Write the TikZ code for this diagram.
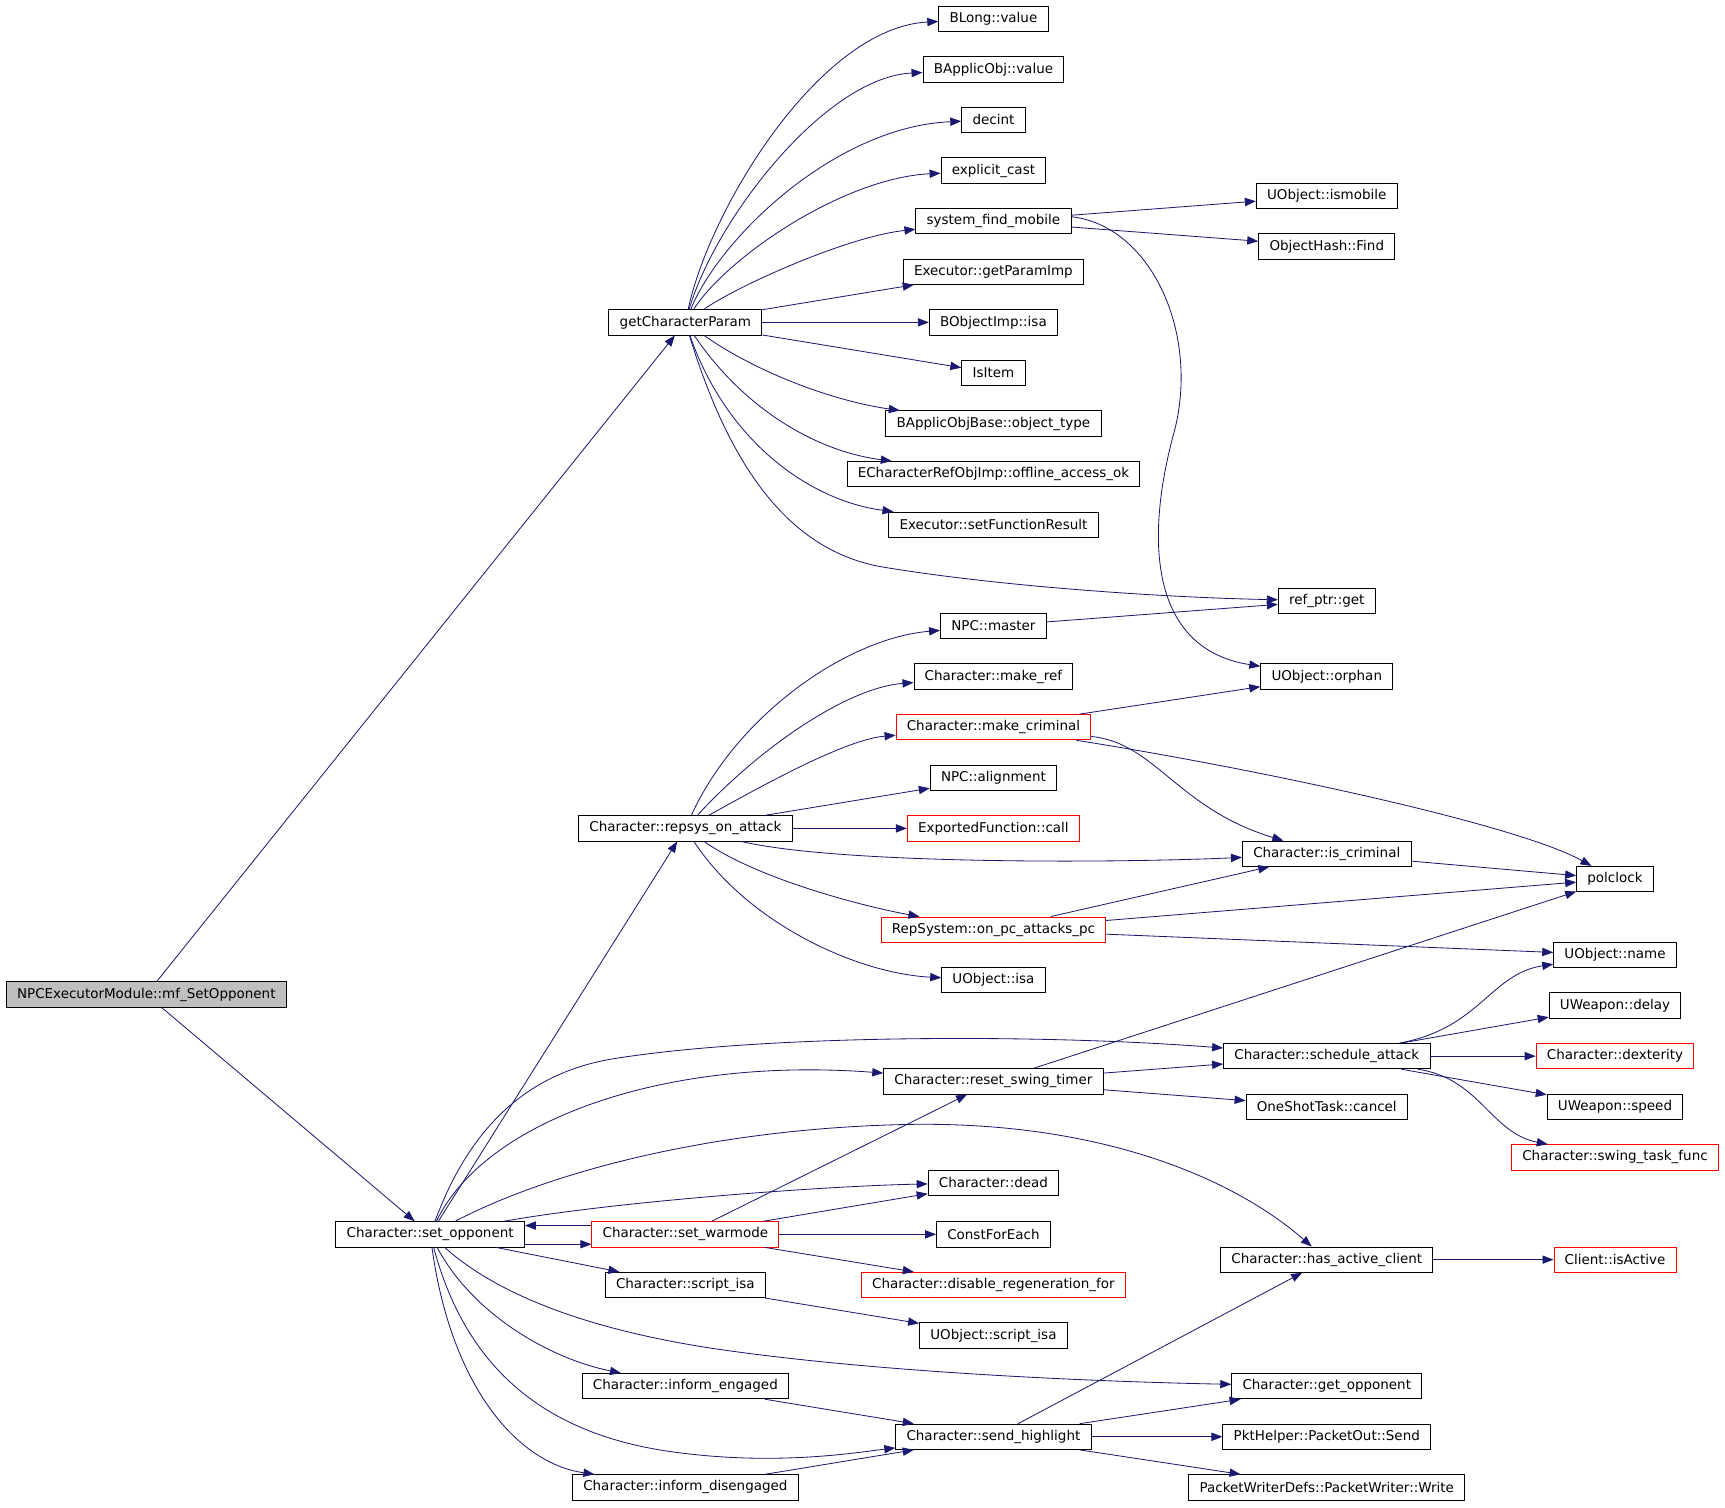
\documentclass[tikz,border=0pt]{standalone}
\usepackage{fontspec}
\setmainfont{DejaVu Sans}
\usepackage{xcolor}
\usepackage{tikz}
\usetikzlibrary{arrows.meta}
\definecolor{edgeblue}{HTML}{191970}
\definecolor{rootgray}{HTML}{BFBFBF}
\pgfkeys{tikz/fnbox/.style={draw=black,fill=white,line width=0.8pt,minimum height=23pt,inner xsep=9.8pt,inner ysep=0pt,font=\fontsize{12.25}{14}\selectfont}}
\pgfkeys{tikz/fnred/.style={fnbox,draw=red}}
\pgfkeys{tikz/fnroot/.style={fnbox,fill=rootgray}}
\pgfkeys{tikz/callarrow/.style={draw=edgeblue,line width=0.75pt,-{Triangle[length=10pt,width=7.5pt]}}}

\begin{document}
\begin{tikzpicture}[x=1pt,y=-1pt]
  \useasboundingbox (0,0) rectangle (1568,1370);

  % callers
  \node[fnroot] (mfset) at (133,904) {NPCExecutorModule::mf\_SetOpponent};
  \node[fnbox] (getparam) at (623,293) {getCharacterParam};
  \node[fnbox] (setopp) at (391,1122) {Character::set\_opponent};
  \node[fnbox] (repsys) at (623,753) {Character::repsys\_on\_attack};
  \node[fnred] (setwar) at (623,1122) {Character::set\_warmode};
  \node[fnbox] (scriptisa) at (623,1168) {Character::script\_isa};
  \node[fnbox] (infeng) at (623,1260) {Character::inform\_engaged};
  \node[fnbox] (infdis) at (623,1352) {Character::inform\_disengaged};

  % middle column
  \node[fnbox] (blong) at (903,17) {BLong::value};
  \node[fnbox] (bapplicval) at (903,63) {BApplicObj::value};
  \node[fnbox] (decint) at (903,109) {decint};
  \node[fnbox] (explcast) at (903,155) {explicit\_cast};
  \node[fnbox] (sysfind) at (903,201) {system\_find\_mobile};
  \node[fnbox] (getparamimp) at (903,247) {Executor::getParamImp};
  \node[fnbox] (bobjisa) at (903,293) {BObjectImp::isa};
  \node[fnbox] (isitem) at (903,339) {IsItem};
  \node[fnbox] (objtype) at (903,385) {BApplicObjBase::object\_type};
  \node[fnbox] (offlineok) at (903,431) {ECharacterRefObjImp::offline\_access\_ok};
  \node[fnbox] (setfuncres) at (903,477) {Executor::setFunctionResult};
  \node[fnbox] (npcmaster) at (903,569) {NPC::master};
  \node[fnbox] (makeref) at (903,615) {Character::make\_ref};
  \node[fnred] (makecrim) at (903,661) {Character::make\_criminal};
  \node[fnbox] (npcalign) at (903,707) {NPC::alignment};
  \node[fnred] (expcall) at (903,753) {ExportedFunction::call};
  \node[fnred] (onpcattacks) at (903,845) {RepSystem::on\_pc\_attacks\_pc};
  \node[fnbox] (uobjisa) at (903,891) {UObject::isa};
  \node[fnbox] (resetswing) at (903,983) {Character::reset\_swing\_timer};
  \node[fnbox] (dead) at (903,1075) {Character::dead};
  \node[fnbox] (constfe) at (903,1122) {ConstForEach};
  \node[fnred] (disregen) at (903,1168) {Character::disable\_regeneration\_for};
  \node[fnbox] (uscriptisa) at (903,1214) {UObject::script\_isa};
  \node[fnbox] (sendhl) at (903,1306) {Character::send\_highlight};

  % right columns
  \node[fnbox] (ismobile) at (1206,178) {UObject::ismobile};
  \node[fnbox] (hashfind) at (1206,224) {ObjectHash::Find};
  \node[fnbox] (refget) at (1206,546) {ref\_ptr::get};
  \node[fnbox] (orphan) at (1206,615) {UObject::orphan};
  \node[fnbox] (iscrim) at (1206,776) {Character::is\_criminal};
  \node[fnbox] (schedatt) at (1206,960) {Character::schedule\_attack};
  \node[fnbox] (oscancel) at (1206,1006) {OneShotTask::cancel};
  \node[fnbox] (hasclient) at (1206,1145) {Character::has\_active\_client};
  \node[fnbox] (getopp) at (1206,1260) {Character::get\_opponent};
  \node[fnbox] (pktsend) at (1206,1306) {PktHelper::PacketOut::Send};
  \node[fnbox] (pktwrite) at (1206,1352) {PacketWriterDefs::PacketWriter::Write};
  \node[fnbox] (polclock) at (1468,799) {polclock};
  \node[fnbox] (uobjname) at (1468,868) {UObject::name};
  \node[fnbox] (wdelay) at (1468,914) {UWeapon::delay};
  \node[fnred] (dexterity) at (1468,960) {Character::dexterity};
  \node[fnbox] (wspeed) at (1468,1006) {UWeapon::speed};
  \node[fnred] (swingtask) at (1468,1052) {Character::swing\_task\_func};
  \node[fnred] (isactive) at (1468,1145) {Client::isActive};

  % mf_SetOpponent
  \draw[callarrow] (mfset) -- (getparam);
  \draw[callarrow] (mfset) -- (setopp);

  % getCharacterParam
  \draw[callarrow] (getparam) .. controls (645,190) and (745,25) .. (blong);
  \draw[callarrow] (getparam) .. controls (650,200) and (750,70) .. (bapplicval);
  \draw[callarrow] (getparam) .. controls (655,215) and (760,115) .. (decint);
  \draw[callarrow] (getparam) .. controls (660,235) and (765,162) .. (explcast);
  \draw[callarrow] (getparam) .. controls (670,260) and (770,215) .. (sysfind);
  \draw[callarrow] (getparam) -- (getparamimp);
  \draw[callarrow] (getparam) -- (bobjisa);
  \draw[callarrow] (getparam) -- (isitem);
  \draw[callarrow] (getparam) .. controls (690,340) and (760,365) .. (objtype);
  \draw[callarrow] (getparam) .. controls (675,370) and (740,410) .. (offlineok);
  \draw[callarrow] (getparam) .. controls (660,400) and (735,455) .. (setfuncres);
  \draw[callarrow] (getparam) .. controls (665,430) and (720,500) .. (800,515)
    .. controls (900,532) and (1050,543) .. (refget);

  % system_find_mobile
  \draw[callarrow] (sysfind) -- (ismobile);
  \draw[callarrow] (sysfind) -- (hashfind);
  \draw[callarrow] ([yshift=4pt]sysfind.east) .. controls (1045,205) and (1090,300) .. (1068,390)
    .. controls (1040,490) and (1045,590) .. (orphan);
  \draw[callarrow] (npcmaster) -- (refget);

  % repsys_on_attack
  \draw[callarrow] (repsys) .. controls (670,650) and (770,580) .. (npcmaster);
  \draw[callarrow] (repsys) .. controls (690,680) and (770,625) .. (makeref);
  \draw[callarrow] (repsys) .. controls (700,710) and (770,672) .. (makecrim);
  \draw[callarrow] (repsys) -- (npcalign);
  \draw[callarrow] (repsys) -- (expcall);
  \draw[callarrow] (repsys) .. controls (760,785) and (1000,785) .. (iscrim);
  \draw[callarrow] (repsys) .. controls (690,800) and (790,825) .. (onpcattacks);
  \draw[callarrow] (repsys) .. controls (680,840) and (780,885) .. (uobjisa);

  % make_criminal, is_criminal, on_pc_attacks_pc
  \draw[callarrow] (makecrim) -- (orphan);
  \draw[callarrow] (makecrim) .. controls (1050,675) and (1070,735) .. (iscrim);
  \draw[callarrow] (makecrim) .. controls (1150,700) and (1380,750) .. (polclock);
  \draw[callarrow] (iscrim) -- (polclock);
  \draw[callarrow] (onpcattacks) -- (iscrim);
  \draw[callarrow] (onpcattacks) -- (polclock);
  \draw[callarrow] (onpcattacks) -- (uobjname);

  % reset_swing_timer, schedule_attack
  \draw[callarrow] (resetswing) -- (polclock);
  \draw[callarrow] (resetswing) -- (schedatt);
  \draw[callarrow] (resetswing) -- (oscancel);
  \draw[callarrow] (schedatt) .. controls (1345,935) and (1355,885) .. (uobjname);
  \draw[callarrow] (schedatt) -- (wdelay);
  \draw[callarrow] (schedatt) -- (dexterity);
  \draw[callarrow] (schedatt) -- (wspeed);
  \draw[callarrow] (schedatt) .. controls (1345,980) and (1355,1030) .. (swingtask);

  % set_opponent
  \draw[callarrow] (setopp) -- (repsys);
  \draw[callarrow] (setopp) .. controls (425,1030) and (475,975) .. (560,962)
    .. controls (700,940) and (950,940) .. (schedatt);
  \draw[callarrow] (setopp) .. controls (440,1020) and (600,960) .. (resetswing);
  \draw[callarrow] (setopp) .. controls (500,1065) and (650,1025) .. (830,1022)
    .. controls (1000,1020) and (1120,1070) .. (hasclient);
  \draw[callarrow] (setopp) .. controls (560,1092) and (750,1078) .. (dead);
  \draw[callarrow] ([yshift=-9pt]setopp.east) -- ([yshift=-9pt]setwar.west);
  \draw[callarrow] ([yshift=8pt]setwar.west) -- ([yshift=8pt]setopp.east);
  \draw[callarrow] (setopp) -- (scriptisa);
  \draw[callarrow] (setopp) .. controls (450,1175) and (530,1208) .. (650,1226)
    .. controls (800,1248) and (1000,1256) .. (getopp);
  \draw[callarrow] (setopp) .. controls (430,1195) and (500,1235) .. (infeng);
  \draw[callarrow] (setopp) .. controls (420,1230) and (480,1298) .. (600,1318)
    .. controls (700,1334) and (780,1320) .. (sendhl);
  \draw[callarrow] (setopp) .. controls (410,1260) and (470,1330) .. (infdis);

  % set_warmode and the rest
  \draw[callarrow] (setwar) -- (resetswing);
  \draw[callarrow] (setwar) -- (dead);
  \draw[callarrow] (setwar) -- (constfe);
  \draw[callarrow] (setwar) -- (disregen);
  \draw[callarrow] (scriptisa) -- (uscriptisa);
  \draw[callarrow] (infeng) -- (sendhl);
  \draw[callarrow] (infdis) -- (sendhl);
  \draw[callarrow] (sendhl) -- (hasclient);
  \draw[callarrow] (sendhl) -- (getopp);
  \draw[callarrow] (sendhl) -- (pktsend);
  \draw[callarrow] (sendhl) -- (pktwrite);
  \draw[callarrow] (hasclient) -- (isactive);
\end{tikzpicture}
\end{document}
